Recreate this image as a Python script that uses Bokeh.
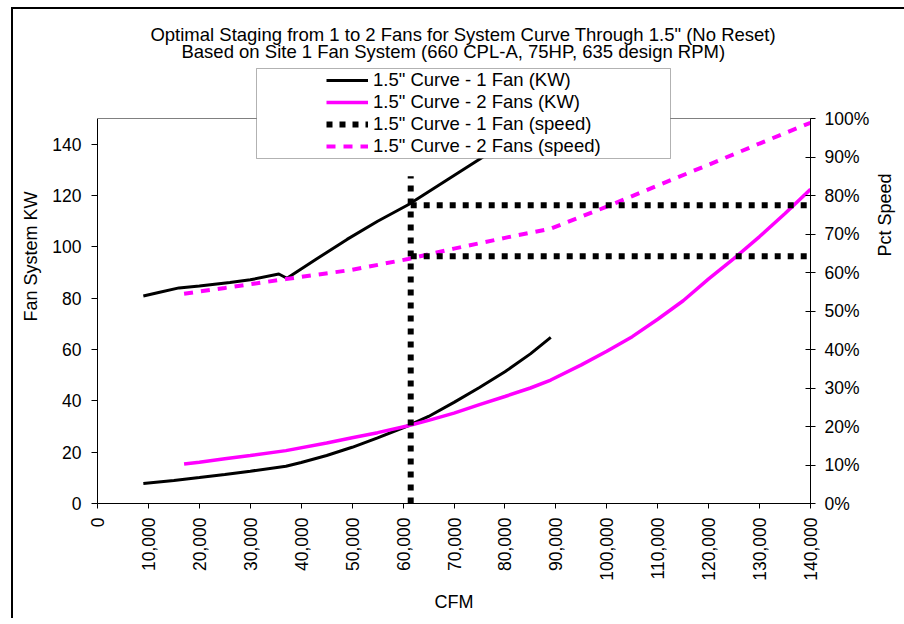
import math
from bokeh.plotting import figure
from bokeh.models import (Range1d, LinearAxis, NumeralTickFormatter, SingleIntervalTicker,
                          Legend, LegendItem, Label, BoxAnnotation, Arrow, Span)
from bokeh.embed import file_html
from bokeh.resources import INLINE

FONT = "Liberation Sans"

# ---------------- data ----------------
title_lines = ['Optimal Staging from 1 to 2 Fans for System Curve Through 1.5" (No Reset)',
               'Based on Site 1 Fan System (660 CPL-A, 75HP, 635 design RPM)']
series_names = ['1.5" Curve - 1 Fan (KW)', '1.5" Curve - 2 Fans (KW)',
                '1.5" Curve - 1 Fan (speed)', '1.5" Curve - 2 Fans (speed)']

cfm_1fan_kw = [9000, 15000, 20000, 25000, 30000, 37000, 40000, 45000, 50000, 55000,
               61000, 65000, 70000, 75000, 80000, 85000, 89000]
kw_1fan = [7.8, 9.0, 10.1, 11.3, 12.6, 14.5, 16.0, 18.7, 21.9, 25.6,
           30.3, 33.9, 39.4, 45.2, 51.3, 58.3, 64.7]

cfm_2fan_kw = [17000, 20000, 25000, 30000, 37000, 45000, 50000, 55000, 61000, 65000,
               70000, 75000, 80000, 85000, 89000, 95000, 100000, 105000, 110000, 115000,
               120000, 125000, 130000, 135000, 140000]
kw_2fan = [15.4, 16.1, 17.4, 18.7, 20.6, 23.6, 25.6, 27.6, 30.3, 32.4,
           35.2, 38.5, 41.7, 45.0, 48.1, 54.0, 59.3, 65.0, 71.8, 79.0,
           87.5, 95.5, 104.0, 113.0, 122.4]

cfm_1fan_speed = [9000, 12000, 16000, 20000, 26000, 30000, 35600, 37200, 43000, 49000,
                  55000, 61000, 68000, 75000, 82000, 89000]
speed_1fan = [0.539, 0.548, 0.560, 0.565, 0.574, 0.581, 0.596, 0.585, 0.635, 0.686,
              0.733, 0.776, 0.835, 0.894, 0.955, 1.016]

cfm_2fan_speed = [17000, 25000, 37000, 50000, 61000, 70000, 80000, 89000, 100000,
                  110000, 120000, 130000, 140000]
speed_2fan = [0.545, 0.560, 0.583, 0.607, 0.635, 0.662, 0.690, 0.714, 0.771,
              0.826, 0.880, 0.935, 0.989]

stage_cfm = 61500
stage_speed_top = 0.85
stage_speed_levels = [0.775, 0.642]
stage_line_end_cfm = 150800

x_ticks_interval = 10000
kw_ticks_interval = 20
speed_ticks_interval = 0.1

# ---------------- layout (page pixels) ----------------
CANVAS_X, CANVAS_Y = 13, 9            # after 11/7 px margin and 2 px border
FRAME_L, FRAME_R, FRAME_T, FRAME_B = 97, 810, 118, 503   # visible plot area
X0, X1, Y0, Y1 = 0, 140000, 0, 150
S0, S1 = 0.0, 1.0
EXT_TOP = CANVAS_Y                     # frame is extended up to canvas top
kw_per_px = (Y1 - Y0) / (FRAME_B - FRAME_T)
Y_TOP = Y0 + (FRAME_B - EXT_TOP) * kw_per_px
S_TOP = S0 + (Y_TOP - Y0) / (Y1 - Y0) * (S1 - S0)


def px_x(px):
    return X0 + (px - FRAME_L) * (X1 - X0) / (FRAME_R - FRAME_L)


def px_y(py):
    return Y0 + (FRAME_B - py) * kw_per_px


p = figure(frame_width=FRAME_R - FRAME_L, frame_height=FRAME_B - EXT_TOP,
           min_border_left=FRAME_L - CANVAS_X, min_border_right=88,
           min_border_top=0, min_border_bottom=115,
           x_range=Range1d(X0, X1), y_range=Range1d(Y0, Y_TOP),
           output_backend="svg", toolbar_location=None,
           background_fill_color="white", border_fill_color="white",
           outline_line_color=None, margin=(7, 0, 0, 11),
           styles={"border-top": "2px solid black", "border-left": "2px solid black"})
p.extra_y_ranges = {"speed": Range1d(S0, S_TOP)}
p.grid.visible = False


def style_axis(ax):
    ax.axis_line_color = "black"
    ax.axis_line_width = 1
    ax.major_tick_line_color = "black"
    ax.minor_tick_line_color = None
    ax.major_label_text_font = FONT
    ax.major_label_text_font_size = "17.5px"
    ax.major_label_text_color = "black"
    ax.axis_label_text_font = FONT
    ax.axis_label_text_font_size = "18px"
    ax.axis_label_text_font_style = "normal"
    ax.axis_label_text_color = "black"


xa = p.xaxis[0]
style_axis(xa)
xa.ticker = SingleIntervalTicker(interval=x_ticks_interval)
xa.formatter = NumeralTickFormatter(format="0,0")
xa.major_label_orientation = math.pi / 2
xa.major_tick_in = 0
xa.major_tick_out = 5
xa.major_label_standoff = 9
xa.axis_label = "CFM"
xa.axis_label_standoff = 8

ya = p.yaxis[0]
style_axis(ya)
ya.bounds = (Y0, Y1)
ya.ticker = SingleIntervalTicker(interval=kw_ticks_interval)
ya.major_tick_in = 0
ya.major_tick_out = 6
ya.major_label_standoff = 10
ya.axis_label = "Fan System KW"
ya.axis_label_standoff = 8

ra = LinearAxis(y_range_name="speed", ticker=SingleIntervalTicker(interval=speed_ticks_interval),
                formatter=NumeralTickFormatter(format="0%"), axis_label="Pct Speed",
                bounds=(S0, S1))
style_axis(ra)
ra.major_tick_in = 5
ra.major_tick_out = 5
ra.major_label_standoff = 9
ra.axis_label_standoff = 13
try:
    ra.axis_label_orientation = math.pi / 2
except Exception:
    pass
p.add_layout(ra, "right")

# plot-area top edge (grey)
p.add_layout(Span(location=Y1, dimension="width", line_color="#808080", line_width=1))

# series
r_up = p.line(cfm_1fan_speed, speed_1fan, y_range_name="speed", line_color="black", line_width=3)
r1 = p.line(cfm_1fan_kw, kw_1fan, line_color="black", line_width=3)
r2 = p.line(cfm_2fan_kw, kw_2fan, line_color="#FF00FF", line_width=3.5)
r3 = p.line([stage_cfm, stage_cfm], [0, stage_speed_top], y_range_name="speed",
            line_color="black", line_width=6, line_dash="6 7")
for lvl in stage_speed_levels:
    p.add_layout(Arrow(end=None, x_start=stage_cfm, y_start=lvl, x_end=stage_line_end_cfm, y_end=lvl,
                       y_range_name="speed", line_color="black", line_width=6, line_dash="6 7"))
r4 = p.line(cfm_2fan_speed, speed_2fan, y_range_name="speed", line_color="#FF00FF",
            line_width=4, line_dash="9 8")

# title
for txt, cx, by in zip(title_lines, [462.7, 452.8], [34, 51]):
    p.add_layout(Label(x=px_x(cx), y=px_y(by), text=txt, text_align="center",
                       text_baseline="alphabetic", text_font=FONT, text_font_size="18.5px",
                       text_color="black"))

# legend box
p.add_layout(BoxAnnotation(left=px_x(256), right=px_x(670), top=px_y(68), bottom=px_y(158),
                           fill_color="white", fill_alpha=1, line_color="black", line_width=1))

legend = Legend(items=[LegendItem(label=n, renderers=[r]) for n, r in zip(series_names, [r1, r2, r3, r4])],
                location=(326 - FRAME_L, FRAME_B - 157), padding=0, spacing=0, margin=0,
                glyph_width=42, glyph_height=22, label_height=22, label_standoff=5,
                label_text_font=FONT, label_text_font_size="18.5px", label_text_color="black",
                border_line_alpha=0, background_fill_alpha=0)
p.add_layout(legend, "center")

open("out.html", "w").write(file_html(p, INLINE))
